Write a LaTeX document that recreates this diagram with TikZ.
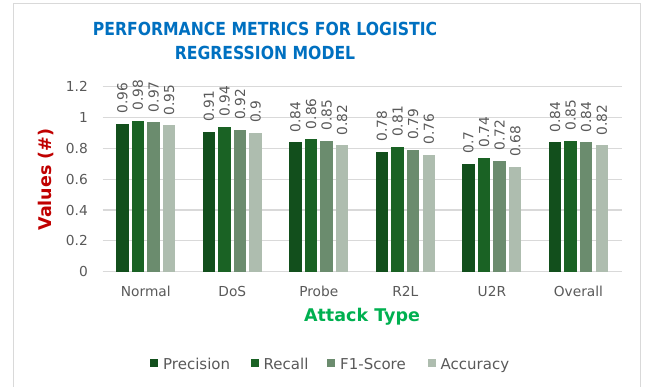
\documentclass[tikz,border=0pt]{standalone}
\usepackage{fontspec}
\setmainfont{DejaVu Sans}
\newfontfamily\titlefont{DejaVu Sans}[FakeStretch=0.87]

\definecolor{frameline}{HTML}{D9D9D9}
\definecolor{gridline}{HTML}{D9D9D9}
\definecolor{labelgray}{HTML}{595959}
\definecolor{titleblue}{HTML}{0070C0}
\definecolor{axisred}{HTML}{C00000}
\definecolor{axisgreen}{HTML}{00B050}
\definecolor{cP}{HTML}{124F1C}
\definecolor{cR}{HTML}{1A6224}
\definecolor{cF}{HTML}{6B8C6E}
\definecolor{cA}{HTML}{AEBDAF}

\tikzset{
  grid line/.style={draw=gridline, line width=1.2pt},
  tick label/.style={text=labelgray, font=\fontsize{13.75}{16}\selectfont, inner sep=0pt},
  value label/.style={text=labelgray, font=\fontsize{13.75}{16}\selectfont, inner sep=0pt, rotate=90, anchor=west},
  legend label/.style={text=labelgray, font=\fontsize{15}{18}\selectfont, inner sep=0pt, anchor=base west},
  chart title/.style={text=titleblue, font=\titlefont\bfseries\fontsize{18}{22}\selectfont, inner sep=0pt, anchor=base},
}

\begin{document}
\begin{tikzpicture}[x=1pt, y=-1pt]
\useasboundingbox (0,0) rectangle (645,387);

% chart frame (open at the bottom)
\draw[frameline, line width=1.5pt] (13.5,387) -- (13.5,3.3) -- (640.7,3.3) -- (640.7,387);

% title
\node[chart title] (title1) at (265,36) {PERFORMANCE METRICS FOR LOGISTIC};
\node[chart title] (title2) at (265,60) {REGRESSION MODEL};

% horizontal grid lines and value axis labels
\foreach \v/\t in {0.2/0.2, 0.4/0.4, 0.6/0.6, 0.8/0.8, 1.0/1, 1.2/1.2} {
  \draw[grid line] (102.5,{271.7-154*\v}) -- (621.7,{271.7-154*\v});
}
\draw[grid line] (102.5,271.7) -- (621.7,271.7);
\foreach \v/\t in {0/0, 0.2/0.2, 0.4/0.4, 0.6/0.6, 0.8/0.8, 1.0/1, 1.2/1.2} {
  \node[tick label, anchor=east] at (88,{271.7-154*\v}) {\t};
}

% bars, value labels and category labels
\foreach \cat/\a/\b/\c/\d [count=\i from 0] in {
    Normal/0.96/0.98/0.97/0.95,
    DoS/0.91/0.94/0.92/0.9,
    Probe/0.84/0.86/0.85/0.82,
    R2L/0.78/0.81/0.79/0.76,
    U2R/0.7/0.74/0.72/0.68,
    Overall/0.84/0.85/0.84/0.82} {
  \pgfmathsetmacro\cx{102.5+86.53*(\i+0.5)}
  \foreach \v/\o/\col in {\a/-23.4/cP, \b/-7.8/cR, \c/7.8/cF, \d/23.4/cA} {
    \fill[\col] ({\cx+\o-6.2},271.7) rectangle ({\cx+\o+6.2},{271.7-154*\v});
    \node[value label] at ({\cx+\o},{271.7-154*\v-10}) {\v};
  }
  \node[tick label, anchor=base] (cat\i) at (\cx,296.7) {\cat};
}

% axis titles
\node[text=axisred, font=\bfseries\fontsize{17.5}{20}\selectfont, rotate=90, inner sep=0pt] (ytitle) at (46.5,179.5) {Values (\#)};
\node[text=axisgreen, font=\bfseries\fontsize{17.5}{20}\selectfont, anchor=base, inner sep=0pt] (xtitle) at (362,321.7) {Attack Type};

% legend
\foreach \x/\tx/\col/\name in {150/163/cP/Precision, 250.7/263.5/cR/Recall, 326.7/340/cF/F1-Score, 428/440.5/cA/Accuracy} {
  \fill[\col] (\x,359.3) rectangle ({\x+8},367.3);
  \node[legend label] at (\tx,369.3) {\name};
}
\end{tikzpicture}
\end{document}
